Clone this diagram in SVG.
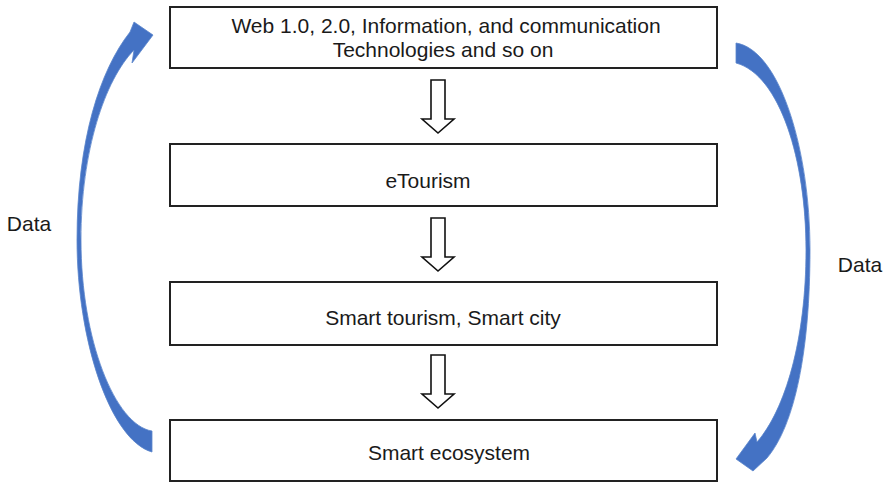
<svg xmlns="http://www.w3.org/2000/svg" width="887" height="484" viewBox="0 0 887 484">
  <style>
    .box { fill: #ffffff; stroke: #222222; stroke-width: 2; }
    .lbl { font-family: "Liberation Sans", Arial, sans-serif; font-size: 21px; fill: #1a1a1a; text-anchor: middle; }
    .down { fill: #ffffff; stroke: #111111; stroke-width: 1.6; stroke-linejoin: miter; }
    .flow { fill: #4472C4; stroke: #5a85cc; stroke-width: 0.8; }
  </style>
  <defs>
    <!-- hollow block arrow pointing down, origin at shaft top centre -->
    <path id="blockDown" d="M-7,0 H7 V39 H16 L0,53 L-16,39 H-7 Z"/>
  </defs>

  <rect width="887" height="484" fill="#ffffff"/>

  <g id="node-ict">
    <rect class="box" x="170" y="7" width="547" height="61"/>
    <text class="lbl" x="446" y="33">Web 1.0, 2.0, Information, and communication</text>
    <text class="lbl" x="443" y="57">Technologies and so on</text>
  </g>

  <g id="node-etourism">
    <rect class="box" x="170" y="144" width="547" height="62"/>
    <text class="lbl" x="428" y="188">eTourism</text>
  </g>

  <g id="node-smart-tourism">
    <rect class="box" x="170" y="282" width="547" height="63"/>
    <text class="lbl" x="443" y="325">Smart tourism, Smart city</text>
  </g>

  <g id="node-ecosystem">
    <rect class="box" x="170" y="420" width="547" height="61"/>
    <text class="lbl" x="449" y="460">Smart ecosystem</text>
  </g>

  <g id="connectors">
    <use href="#blockDown" class="down" x="438" y="80"/>
    <use href="#blockDown" class="down" x="438" y="218"/>
    <use href="#blockDown" class="down" x="438" y="355"/>

    <!-- data feedback loop, left side: ecosystem back up to ICT -->
    <path class="flow" d="M152,452 C110,440 77,340 77,240 C77,140 100,70 130,32 L134,22 L153,35 L132,63 L134,50 C105,80 81,150 81,240 C81,340 115,425 152,431 Z"/>
    <!-- data flow, right side: ICT down to ecosystem -->
    <path class="flow" d="M736,43 C780,50 810,150 810,250 C810,350 795,425 767,458 L753,471 L736,459 L755,433 L757,442 C785,410 806,340 806,250 C806,160 780,75 736,63 Z"/>

    <text class="lbl" x="29" y="231">Data</text>
    <text class="lbl" x="860" y="272">Data</text>
  </g>
</svg>
